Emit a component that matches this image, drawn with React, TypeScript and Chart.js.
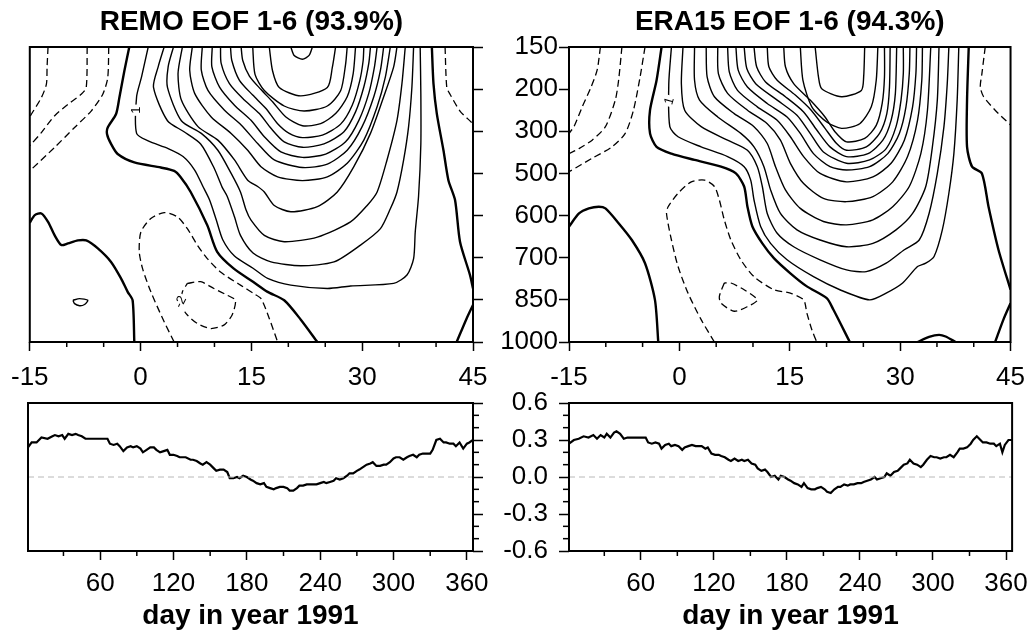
import React, { useEffect, useRef } from 'react';
import { Chart, registerables } from 'chart.js';

Chart.register(...registerables);

const FONT = "'Liberation Sans', Arial, Helvetica, sans-serif";
const W = 1036;
const H = 633;

// ---- axis ticks ----
const LAG_TICKS = [-15, 0, 15, 30, 45];
const LEVELS = ['150', '200', '300', '500', '600', '700', '850', '1000'];
const DAY_TICKS = [60, 120, 180, 240, 300, 360];
const PC_TICKS = [-0.6, -0.3, 0, 0.3, 0.6];

const TITLE_REMO = 'REMO EOF 1-6 (93.9%)';
const TITLE_ERA = 'ERA15 EOF 1-6 (94.3%)';
const XLABEL = 'day in year 1991';

// contour lines: pairs of [lag (days), level index (0 = 150 hPa ... 7 = 1000 hPa)]
const L = (lags: number[], levs: number[]) => lags.map((x, i) => [x, levs[i]]);

// ---------- REMO ----------
const REMO_C1 = L([1.03,0.13,-0.54,-0.54,1.03,3.73,5.75,7.32,8.44,9.34,10.24,11.14,12.71,15.22,17.2,20.34,25.28,28.42,34.26,36.06,36.96,37.18,37.63,37.94,37.94,37.85],[0,0.71,1.18,2.05,2.23,2.41,2.6,2.92,3.31,3.63,4.1,4.58,4.96,5.25,5.49,5.65,5.73,5.67,5.61,5.41,5.02,4.39,3.54,2.3,1.12,0]);
const REMO_C2 = L([3.19,2.38,1.75,3.64,5.88,8.13,9.92,11.05,11.72,12.71,13.52,15.22,17.65,21.69,26.18,29.77,32.47,33.81,34.71,35.61,36.28,36.73,36.96],[0,0.47,0.96,1.75,2.01,2.3,2.86,3.33,3.54,4.03,4.47,4.89,5.1,5.19,5.1,4.7,4.31,3.84,3.44,2.68,1.89,0.95,0]);
const REMO_C3 = L([4.45,3.73,3.64,5.52,8.22,10.46,12.26,13.52,14.28,14.95,16.75,19.44,23.93,28.42,30.67,32.02,33.36,34.71,35.38,35.83],[0,0.47,0.96,1.75,2.05,2.45,3.0,3.44,3.87,4.11,4.47,4.62,4.51,4.15,3.76,3.44,2.68,1.74,0.87,0]);
const REMO_C4 = L([5.66,5.07,5.52,7.77,10.46,12.71,14.5,15.85,16.75,18.1,20.34,23.93,26.63,28.87,31.12,32.91,34.26,34.71],[0,0.63,1.26,1.89,2.21,2.68,3.16,3.31,3.44,3.76,3.91,3.79,3.44,2.84,2.05,1.18,0.47,0]);
const REMO_C5 = L([7.0,6.65,7.32,9.56,12.26,14.5,16.3,18.55,21.91,25.28,27.97,30.22,32.02,33.14,33.81],[0,0.55,1.1,1.66,2.05,2.45,2.84,3.08,3.17,3.08,2.76,2.21,1.42,0.71,0]);
const REMO_C6 = L([8.35,8.22,9.12,11.36,13.61,15.85,18.1,21.91,25.28,27.97,29.99,31.57,32.47,32.91],[0,0.55,1.03,1.5,1.85,2.29,2.68,2.86,2.78,2.45,1.89,1.18,0.55,0]);
const REMO_C7 = L([9.7,9.65,10.69,12.71,14.95,16.75,18.99,21.91,25.06,27.75,29.55,30.89,31.66,32.02],[0,0.47,0.95,1.38,1.74,2.13,2.49,2.62,2.54,2.25,1.74,1.1,0.47,0]);
const REMO_C8 = L([10.82,10.91,12.03,14.05,16.08,17.65,19.44,21.91,24.83,27.53,29.1,30.22,30.89,31.12],[0,0.39,0.87,1.26,1.58,1.93,2.25,2.38,2.3,2.01,1.54,0.95,0.39,0]);
const REMO_C9 = L([12.17,12.35,13.38,15.18,16.97,18.55,20.12,21.91,24.61,27.08,28.65,29.68,30.13,30.22],[0,0.32,0.79,1.14,1.46,1.82,2.05,2.15,2.09,1.83,1.38,0.79,0.32,0]);
const REMO_C10 = L([13.61,13.83,14.73,16.3,17.87,19.67,21.91,24.38,26.4,27.97,28.78,29.1],[0,0.32,0.69,1.01,1.3,1.66,1.87,1.82,1.58,1.18,0.63,0]);
const REMO_C11 = L([15.18,15.49,16.75,19.44,22.14,25.28,27.08,27.75,27.97],[0,0.65,1.03,1.4,1.52,1.4,1.04,0.41,0]);
const REMO_C12 = L([17.42,17.87,18.77,21.69,25.28,25.95,26.4],[0,0.57,0.96,1.16,0.96,0.49,0]);
const REMO_C13 = L([20.34,20.79,21.91,22.81,23.26],[0,0.2,0.29,0.2,0]);
const REMO_S1 = L([-9.16,-8.26,-7.14,-7.59,-8.26,-8.94,-9.16],[6.01,5.97,6.01,6.11,6.14,6.09,6.01]);

const REMO_Z1 = L([-1.53,-2.2,-2.87,-3.32,-4.45,-4.54,-4.0,-3.1,-0.85,2.74,4.54,5.43,6.78,9.03,10.37,12.62,15.22,17.2,19.44,21.69,23.93],[0,0.57,1.2,1.59,1.91,2.07,2.3,2.54,2.74,2.86,2.94,3.09,3.44,4.23,4.86,5.26,5.57,5.81,6.01,6.47,7.0]);
const REMO_Z2 = L([-15,-14.32,-13.43,-12.53,-11.63,-10.73,-9.83,-8.49,-7.36,-5.79,-4.0,-2.65,-1.75,-1.08,-0.85],[4.17,3.99,3.95,4.15,4.47,4.7,4.66,4.59,4.59,4.78,5.1,5.49,5.81,6.01,7.0]);
const REMO_Z3 = L([39.43,39.65,40.1,41.0,41.67,42.57,43.24,44.59,45],[0,0.87,1.58,2.45,3.16,3.63,4.62,5.41,5.73]);
const REMO_Z4 = L([42.79,44.14,45],[7.0,6.44,6.12]);

const REMO_D1 = L([-12.53,-12.66,-12.75,-13.43,-14.77,-15],[0,0.47,0.88,1.2,1.59,1.66]);
const REMO_D2 = L([-7.23,-7.36,-8.04,-9.83,-11.63,-13.43,-14.77,-15],[0,0.96,1.12,1.36,1.63,2.03,2.3,2.34]);
const REMO_D3 = L([-4.31,-4.45,-5.12,-6.69,-8.94,-11.63,-14.77,-15],[0,0.73,1.12,1.52,1.91,2.38,2.9,2.92]);
const REMO_D4 = L([41.22,41.45,41.89,43.24,44.81,45],[0,0.96,1.12,1.52,1.79,1.83]);
const REMO_D5 = L([4.54,3.19,1.39,0.27,-0.18,0.04,1.39,3.19,4.98,6.33,7.68,9.03,10.82,13.52,15.4,16.3,17.42,18.55],[7.0,6.52,5.81,5.26,4.86,4.39,4.07,3.93,4.03,4.31,4.7,5.02,5.34,5.65,5.86,5.97,6.44,7.0]);
const REMO_D6 = L([6.33,8.13,9.92,11.72,12.84,12.39,11.27,9.47,7.68,6.33,5.43,5.66,6.33],[5.61,5.57,5.73,5.89,6.01,6.36,6.6,6.68,6.56,6.36,6.12,5.81,5.61]);

// ---------- ERA15 ----------
const ERA_C1 = L([-1.08,-1.44,-1.3,-0.18,2.96,6.55,8.8,9.69,10.14,11.04,12.39,14.63,18.22,21.81,25.85,28.1,30.34,32.36,33.48,34.61,35.73,36.62,37.3,37.75,37.97],[0,0.87,1.89,2.13,2.37,2.6,2.84,3.16,3.63,4.26,4.66,5.05,5.45,5.76,6.0,5.84,5.6,5.21,5.13,4.97,4.34,3.47,2.53,1.26,0]);
const ERA_C2 = L([0.49,0.27,0.72,2.96,6.55,9.25,10.59,11.27,11.94,13.29,15.53,19.12,22.71,25.4,28.1,30.57,32.59,33.93,35.05,35.95,36.4,36.62],[0,0.87,1.5,1.89,2.21,2.45,2.84,3.31,3.95,4.42,4.74,5.05,5.29,5.33,5.13,4.81,4.58,3.95,3.0,1.89,0.87,0]);
const ERA_C3 = L([2.06,2.06,2.74,5.21,8.35,10.14,11.49,12.39,13.73,15.98,19.12,22.71,26.3,29.44,31.69,33.48,34.38,35.05,35.28],[0,0.79,1.26,1.66,2.05,2.37,2.84,3.39,3.95,4.34,4.58,4.74,4.66,4.34,3.95,3.31,2.37,1.26,0]);
const ERA_C4 = L([3.64,3.77,4.76,7.45,10.14,11.94,13.06,14.41,16.43,19.57,22.71,26.3,28.99,31.24,32.81,33.71,34.16],[0,0.71,1.18,1.58,1.89,2.29,2.84,3.39,3.83,4.14,4.22,4.1,3.79,3.31,2.53,1.5,0]);
const ERA_C5 = L([5.21,5.3,6.55,9.25,11.94,13.73,15.08,16.88,19.57,22.71,26.3,28.99,31.01,32.36,32.94,33.03],[0,0.63,1.1,1.5,1.82,2.21,2.76,3.24,3.59,3.67,3.55,3.2,2.6,1.74,0.79,0]);
const ERA_C6 = L([6.55,6.78,7.9,10.59,13.29,15.08,16.88,19.12,22.71,26.3,28.77,30.57,31.69,32.14,32.23],[0,0.59,1.03,1.42,1.74,2.13,2.6,3.0,3.2,3.08,2.76,2.21,1.42,0.63,0]);
const ERA_C7 = L([7.68,7.99,9.25,11.94,14.63,16.43,18.22,20.47,22.71,25.85,28.32,29.89,30.79,31.24,31.33],[0,0.55,0.95,1.34,1.66,2.05,2.53,2.84,2.92,2.84,2.53,2.05,1.42,0.63,0]);
const ERA_C8 = L([8.8,9.16,10.37,13.29,15.98,17.77,19.57,22.71,25.85,28.1,29.44,30.12,30.43,30.43],[0,0.51,0.87,1.26,1.62,2.05,2.49,2.76,2.68,2.41,1.89,1.26,0.63,0]);
const ERA_C9 = L([10.14,10.5,11.71,14.41,16.88,18.67,20.47,22.71,25.63,27.65,28.77,29.35,29.53],[0,0.47,0.83,1.18,1.54,1.97,2.37,2.6,2.53,2.21,1.74,1.1,0]);
const ERA_C10 = L([11.94,12.16,13.29,15.75,17.91,19.79,21.36,22.71,25.4,27.2,28.19,28.55,28.64],[0,0.47,0.79,1.14,1.5,1.93,2.29,2.45,2.37,2.05,1.58,0.95,0]);
const ERA_C11 = L([14.18,14.41,15.53,17.77,19.79,21.14,22.71,25.18,26.75,27.56,27.87,27.87],[0,0.47,0.87,1.26,1.66,2.01,2.25,2.17,1.86,1.34,0.71,0]);
const ERA_C12 = L([16.43,16.79,18.0,20.02,22.04,24.51,26.08,26.75,26.97],[0,0.79,1.42,1.78,1.93,1.82,1.42,0.79,0]);
const ERA_C13 = L([18.45,18.9,19.34,22.04,24.73,25.04,25.18],[0,0.71,0.99,1.18,1.03,0.71,0]);

const ERA_Z1 = L([-2.42,-3.1,-3.99,-3.99,-3.1,-1.08,2.06,5.66,7.68,8.8,9.25,9.92,11.27,12.84,15.08,17.32,20.02,20.92,23.16],[0,0.79,1.5,2.05,2.37,2.53,2.68,2.84,3.0,3.31,3.79,4.26,4.66,5.01,5.37,5.68,5.96,6.23,7.0]);
const ERA_Z2 = L([-14.99,-13.64,-12.3,-10.95,-10.05,-8.26,-6.46,-4.67,-3.32,-2.87],[4.26,3.95,3.83,3.79,3.83,4.18,4.58,5.13,6.0,7.0]);
const ERA_Z3 = L([39.32,39.09,39.09,39.77,41.11,42.01,43.36,45],[0,1.26,2.37,2.84,3.0,3.79,4.81,5.76]);
const ERA_Z4 = L([42.91,44.03,45],[7.0,6.47,6.08]);
const ERA_Z5 = L([32.36,33.93,35.28,36.18,37.52],[7.0,6.88,6.83,6.87,7.0]);

const ERA_D1 = L([-10.73,-11.18,-12.07,-13.2,-14.32,-15],[0,0.55,0.98,1.42,1.89,2.05]);
const ERA_D2 = L([-7.81,-8.26,-8.71,-10.05,-11.85,-13.64,-15],[0,0.79,1.26,1.89,2.21,2.41,2.53]);
const ERA_D3 = L([-4.67,-5.34,-6.24,-7.36,-9.16,-11.85,-15],[0,0.71,1.5,2.05,2.37,2.64,2.96]);
const ERA_D4 = L([41.56,41.11,40.89,41.34,42.91,45],[0,0.63,0.95,1.18,1.5,1.85]);
const ERA_D5 = L([4.76,2.96,1.17,-0.18,-1.08,-1.75,-1.53,-0.18,1.62,3.41,4.76,5.43,6.1,7.0,8.35,10.14,12.84,15.08,16.88,17.32,18.0,18.67],[7.0,6.47,5.84,5.21,4.58,3.95,3.79,3.47,3.2,3.16,3.31,3.63,4.1,4.58,5.05,5.45,5.76,5.84,6.0,6.31,6.71,7.0]);
const ERA_D6 = L([6.1,5.43,5.66,7.45,9.25,10.59,8.8,7.0,6.1],[5.6,5.92,6.08,6.27,6.16,6.0,5.76,5.6,5.6]);

// ---------- principal component time series ----------
const REMO_DAY = [1,4,8,12,17,21,23,26,29,31,34,37,40,42,45,48,51,55,59,63,66,
  68,71,74,76,79,82,85,87,90,93,95,98,101,104,106,109,112,115,117,120,123,125,
  130,
  134,136,139,142,144,147,150,153,155,158,
  161,164,166,169,172,174,177,180,183,185,
  188,191,194,196,199,202,204,207,210,213,
  215,218,221,223,226,229,232,234,237,240,
  243,245,248,251,253,256,259,262,264,267,
  270,272,275,278,281,283,286,289,292,294,
  297,300,302,305,308,311,313,316,319,321,
  324,327,330,332,335,338,341,343,346,349,
  351,354,357,360,362,365];
const REMO_PC = [0.24,0.28,0.28,0.32,0.31,0.33,0.34,0.33,0.34,0.31,0.35,0.34,0.35,0.34,0.33,0.31,0.31,0.31,0.31,0.31,0.31,
  0.27,0.26,0.27,0.25,0.21,0.24,0.25,0.24,0.25,0.23,0.2,0.22,0.24,0.24,0.22,0.2,0.21,0.22,0.18,0.18,0.17,0.16,
  0.16,
  0.14,0.14,0.13,0.11,0.1,0.12,0.1,0.07,0.05,0.06,
  0.06,0.04,-0.01,-0.01,0.0,-0.01,0.01,0.0,-0.02,-0.03,
  -0.05,-0.06,-0.05,-0.08,-0.09,-0.1,-0.09,-0.08,-0.08,-0.09,
  -0.11,-0.11,-0.09,-0.07,-0.07,-0.06,-0.06,-0.06,-0.06,-0.05,
  -0.04,-0.05,-0.04,-0.03,-0.01,-0.02,-0.01,0.01,0.03,0.03,
  0.05,0.06,0.08,0.1,0.11,0.12,0.09,0.09,0.1,0.1,
  0.12,0.15,0.16,0.16,0.14,0.16,0.17,0.18,0.16,0.18,
  0.19,0.19,0.19,0.22,0.3,0.31,0.28,0.28,0.27,0.27,
  0.25,0.28,0.23,0.27,0.28,0.3];

const ERA_DAY = [1,5,9,13,17,21,24,27,30,32,35,38,40,43,46,49,51,55,60,64,
  66,69,72,75,77,80,83,85,88,91,
  94,96,99,102,105,107,110,113,115,118,
  121,124,126,129,132,134,137,140,143,145,
  148,151,154,156,159,162,164,167,170,173,
  175,178,181,183,186,189,192,194,197,200,
  203,205,208,211,213,216,219,222,224,227,
  230,232,235,238,241,243,246,249,252,254,
  257,260,262,265,268,271,273,276,279,281,
  284,287,290,292,295,298,301,303,306,309,
  311,314,317,320,322,325,328,331,333,336,
  339,341,344,347,350,352,355,
  357,359,362,365];
const ERA_PC = [0.27,0.3,0.31,0.33,0.32,0.34,0.31,0.34,0.32,0.35,0.32,0.36,0.37,0.35,0.31,0.32,0.32,0.32,0.32,0.32,
  0.28,0.27,0.28,0.27,0.23,0.26,0.27,0.25,0.26,0.25,
  0.22,0.24,0.25,0.26,0.25,0.25,0.25,0.23,0.24,0.19,
  0.18,0.18,0.17,0.16,0.14,0.13,0.15,0.13,0.14,0.13,
  0.14,0.11,0.1,0.07,0.05,0.06,0.04,0.0,0.01,-0.02,
  0.01,0.0,-0.02,-0.03,-0.05,-0.06,-0.08,-0.05,-0.09,-0.1,
  -0.1,-0.09,-0.08,-0.1,-0.12,-0.13,-0.1,-0.08,-0.08,-0.06,
  -0.07,-0.06,-0.06,-0.05,-0.05,-0.04,-0.03,-0.02,0.0,-0.02,
  -0.01,0.0,0.03,0.01,0.04,0.05,0.07,0.1,0.11,0.14,
  0.11,0.1,0.08,0.1,0.14,0.17,0.16,0.16,0.15,0.16,
  0.16,0.18,0.16,0.2,0.23,0.23,0.24,0.27,0.3,0.33,
  0.3,0.28,0.28,0.27,0.27,0.25,0.27,
  0.2,0.26,0.3,0.3];

const REMO_THIN = [REMO_C1,REMO_C2,REMO_C3,REMO_C4,REMO_C5,REMO_C6,REMO_C7,REMO_C8,REMO_C9,REMO_C10,REMO_C11,REMO_C12,REMO_C13,REMO_S1];
const REMO_THICK = [REMO_Z1,REMO_Z2,REMO_Z3,REMO_Z4];
const REMO_DASH = [REMO_D1,REMO_D2,REMO_D3,REMO_D4,REMO_D5,REMO_D6];
const REMO_LABELS = [{ x: -0.54, y: 1.5, text: '1', rot: -Math.PI / 2 }, { x: 5.43, y: 6.05, text: '-2', rot: -1.1 }];

const ERA_THIN = [ERA_C1,ERA_C2,ERA_C3,ERA_C4,ERA_C5,ERA_C6,ERA_C7,ERA_C8,ERA_C9,ERA_C10,ERA_C11,ERA_C12,ERA_C13];
const ERA_THICK = [ERA_Z1,ERA_Z2,ERA_Z3,ERA_Z4,ERA_Z5];
const ERA_DASH = [ERA_D1,ERA_D2,ERA_D3,ERA_D4,ERA_D5,ERA_D6];
const ERA_LABELS = [{ x: -1.35, y: 1.28, text: '1', rot: -1.3 }];

// ---------- plugins ----------
const framePlugin = {
  id: 'frame',
  afterDatasetsDraw(chart: any) {
    const { ctx, chartArea: a } = chart;
    ctx.save();
    ctx.strokeStyle = '#000';
    ctx.lineWidth = 2;
    ctx.strokeRect(a.left, a.top, a.right - a.left, a.bottom - a.top);
    ctx.restore();
  },
};

const minorTickPlugin = {
  id: 'minorTicks',
  afterDraw(chart: any, _args: any, opts: any) {
    const { ctx, chartArea: a } = chart;
    ctx.save();
    ctx.strokeStyle = '#000';
    ctx.lineWidth = 1.5;
    (opts.axes || []).forEach((ax: any) => {
      const s = chart.scales[ax.id];
      const n0 = Math.ceil(s.min / ax.step - 1e-9);
      const n1 = Math.floor(s.max / ax.step + 1e-9);
      for (let n = n0; n <= n1; n++) {
        const v = n * ax.step;
        if (s.ticks.some((t: any) => Math.abs(t.value - v) < 1e-6)) continue;
        const p = s.getPixelForValue(v);
        ctx.beginPath();
        if (ax.side === 'bottom') { ctx.moveTo(p, a.bottom); ctx.lineTo(p, a.bottom + ax.len); }
        else if (ax.side === 'right') { ctx.moveTo(a.right, p); ctx.lineTo(a.right + ax.len, p); }
        else { ctx.moveTo(a.left, p); ctx.lineTo(a.left - ax.len, p); }
        ctx.stroke();
      }
    });
    ctx.restore();
  },
};

const labelPlugin = {
  id: 'contourLabels',
  afterDatasetsDraw(chart: any, _args: any, opts: any) {
    const { ctx } = chart;
    (opts.items || []).forEach((it: any) => {
      const px = chart.scales.x.getPixelForValue(it.x);
      const py = chart.scales.y.getPixelForValue(it.y);
      ctx.save();
      ctx.translate(px, py);
      ctx.rotate(it.rot);
      ctx.font = `13px ${FONT}`;
      const w = ctx.measureText(it.text).width;
      ctx.fillStyle = '#fff';
      ctx.fillRect(-w / 2 - 2, -8, w + 4, 16);
      ctx.fillStyle = '#000';
      ctx.textAlign = 'center';
      ctx.textBaseline = 'middle';
      ctx.fillText(it.text, 0, 0);
      ctx.restore();
    });
  },
};

const grid = (len: number) => ({
  display: true,
  drawOnChartArea: false,
  drawTicks: true,
  tickLength: len,
  color: '#000',
  tickColor: '#000',
  tickWidth: 1.5,
});

const tickFont = { family: FONT, size: 26 };

const lineDs = (pts: number[][], width: number, dash: number[]) => ({
  data: pts.map(([x, y]) => ({ x, y })),
  showLine: true,
  borderColor: '#000',
  borderWidth: width,
  borderDash: dash,
  pointRadius: 0,
  fill: false,
  tension: 0.25,
});

function contourConfig(title: string, thin: any[], thick: any[], dash: any[], labels: any[], left: boolean) {
  const datasets = [
    ...thin.map((c) => lineDs(c, 1.4, [])),
    ...thick.map((c) => lineDs(c, 2.4, [])),
    ...dash.map((c) => lineDs(c, 1.3, [7, 4])),
  ];
  return {
    type: 'scatter',
    data: { datasets },
    options: {
      responsive: false,
      animation: false,
      devicePixelRatio: 1,
      events: [],
      layout: { padding: left ? { left: 0, right: 21, top: 0, bottom: 0 } : { left: 28, right: 551, top: 0, bottom: 0 } },
      plugins: {
        legend: { display: false },
        tooltip: { enabled: false },
        title: {
          display: true,
          text: title,
          fullSize: false,
          color: '#000',
          font: { family: FONT, size: 28, weight: 'bold', lineHeight: 1 },
          padding: { top: 8, bottom: 11 },
        },
        minorTicks: { axes: [{ id: 'x', step: 5, len: 5, side: 'bottom' }] },
        contourLabels: { items: labels },
      },
      scales: {
        x: {
          type: 'linear',
          position: 'bottom',
          min: -15,
          max: 45,
          afterBuildTicks: (s: any) => { s.ticks = LAG_TICKS.map((v) => ({ value: v })); },
          afterFit: (s: any) => { s.height = 291; },
          grid: grid(9),
          border: { display: false },
          ticks: { color: '#000', font: tickFont, padding: 11, maxRotation: 0, autoSkip: false },
        },
        y: {
          type: 'linear',
          position: left ? 'left' : 'right',
          min: 0,
          max: 7,
          reverse: true,
          afterBuildTicks: (s: any) => { s.ticks = LEVELS.map((_, i) => ({ value: i })); },
          afterFit: (s: any) => { s.width = left ? 569 : 12; },
          grid: grid(10),
          border: { display: false },
          ticks: {
            display: left,
            color: '#000',
            font: tickFont,
            padding: 1,
            autoSkip: false,
            callback: (v: any) => LEVELS[Math.round(v)],
          },
        },
      },
    },
    plugins: [framePlugin, minorTickPlugin, labelPlugin],
  };
}

function seriesConfig(days: number[], pc: number[], left: boolean) {
  return {
    type: 'scatter',
    data: {
      datasets: [
        {
          data: [{ x: 1, y: 0 }, { x: 365, y: 0 }],
          showLine: true,
          borderColor: '#b8b8b8',
          borderWidth: 1,
          borderDash: [6, 4],
          pointRadius: 0,
        },
        {
          data: days.map((d, i) => ({ x: d, y: pc[i] })),
          showLine: true,
          borderColor: '#000',
          borderWidth: 2.2,
          pointRadius: 0,
          tension: 0,
        },
      ],
    },
    options: {
      responsive: false,
      animation: false,
      devicePixelRatio: 1,
      events: [],
      layout: { padding: left ? { left: 0, right: 21, top: 403, bottom: 0 } : { left: 28, right: 551, top: 403, bottom: 0 } },
      plugins: {
        legend: { display: false },
        tooltip: { enabled: false },
        title: { display: false },
        minorTicks: {
          axes: [
            { id: 'x', step: 30, len: 5, side: 'bottom' },
            { id: 'y', step: 0.1, len: 6, side: left ? 'left' : 'right' },
          ],
        },
      },
      scales: {
        x: {
          type: 'linear',
          position: 'bottom',
          min: 1,
          max: 365,
          afterBuildTicks: (s: any) => { s.ticks = DAY_TICKS.map((v) => ({ value: v })); },
          afterFit: (s: any) => { s.height = 82; },
          grid: grid(9),
          border: { display: false },
          ticks: { color: '#000', font: tickFont, padding: 8, maxRotation: 0, autoSkip: false },
          title: {
            display: true,
            text: XLABEL,
            color: '#000',
            font: { family: FONT, size: 28, weight: 'bold' },
            padding: { top: 0, bottom: 0 },
          },
        },
        y: {
          type: 'linear',
          position: left ? 'left' : 'right',
          min: -0.6,
          max: 0.6,
          afterBuildTicks: (s: any) => { s.ticks = PC_TICKS.map((v) => ({ value: v })); },
          afterFit: (s: any) => { s.width = left ? 569 : 12; },
          grid: grid(10),
          border: { display: false },
          ticks: {
            display: left,
            color: '#000',
            font: tickFont,
            padding: 11,
            autoSkip: false,
            callback: (v: any) => (Math.abs(v) < 1e-9 ? '0.0' : Number(v).toFixed(1)),
          },
        },
      },
    },
    plugins: [framePlugin, minorTickPlugin],
  };
}

function ChartCanvas({ make }: { make: () => any }) {
  const ref = useRef<HTMLCanvasElement | null>(null);
  useEffect(() => {
    const chart = new Chart(ref.current as HTMLCanvasElement, make());
    return () => chart.destroy();
  }, []);
  return (
    <canvas
      ref={ref}
      width={W}
      height={H}
      style={{ position: 'absolute', left: 0, top: 0, width: W, height: H }}
    />
  );
}

export default function App() {
  return (
    <div style={{ position: 'absolute', left: 0, top: 0, width: W, height: H, background: '#fff', overflow: 'hidden' }}>
      <ChartCanvas make={() => contourConfig(TITLE_REMO, REMO_THIN, REMO_THICK, REMO_DASH, REMO_LABELS, false)} />
      <ChartCanvas make={() => contourConfig(TITLE_ERA, ERA_THIN, ERA_THICK, ERA_DASH, ERA_LABELS, true)} />
      <ChartCanvas make={() => seriesConfig(REMO_DAY, REMO_PC, false)} />
      <ChartCanvas make={() => seriesConfig(ERA_DAY, ERA_PC, true)} />
    </div>
  );
}
